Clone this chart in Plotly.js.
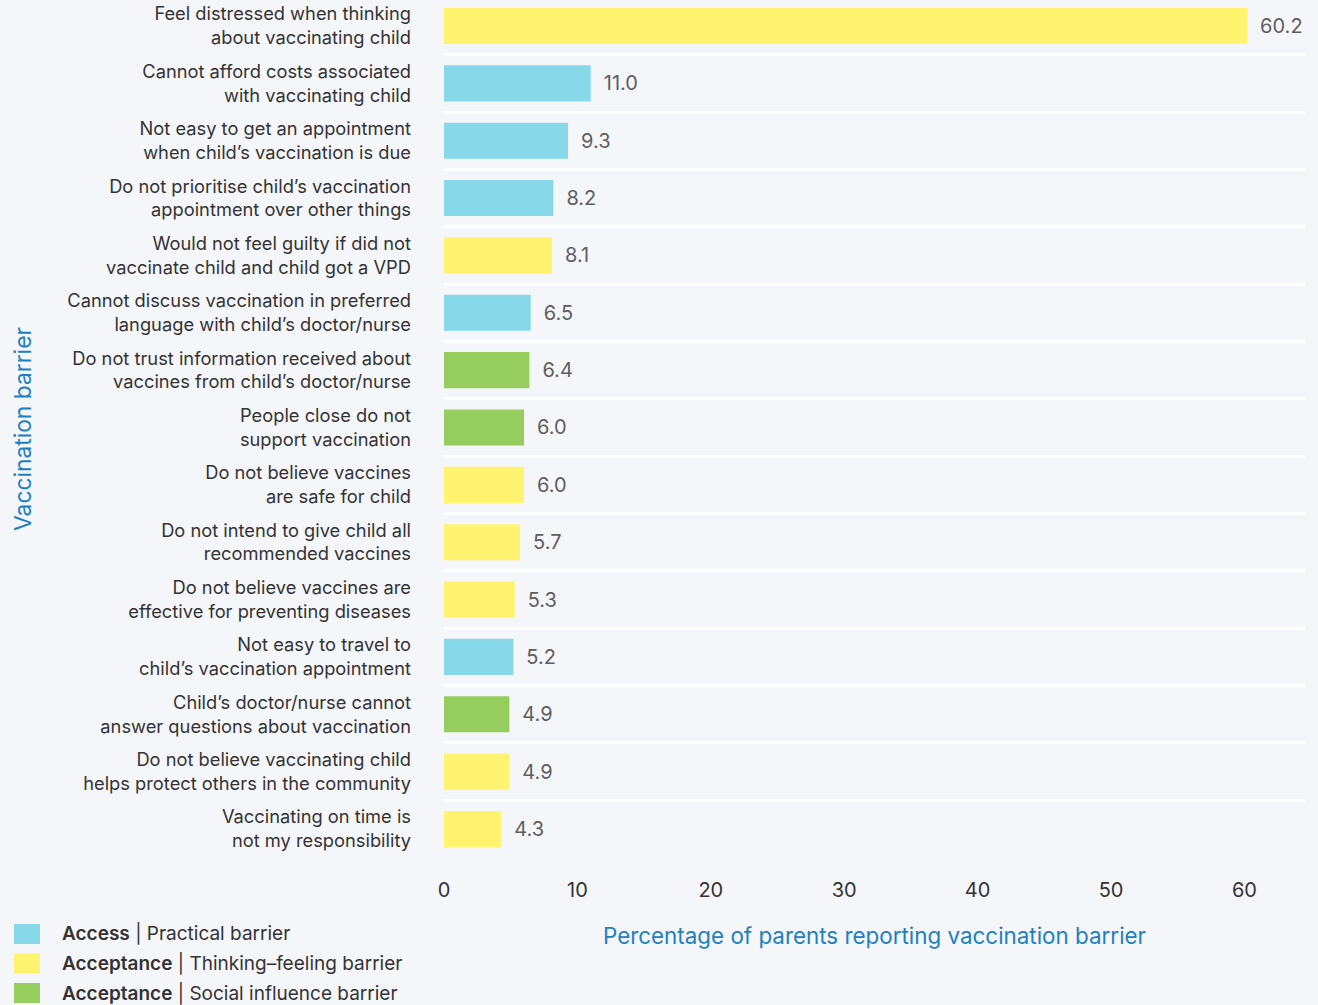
<!DOCTYPE html>
<html>
<head>
<meta charset="utf-8">
<script src="https://cdn.plot.ly/plotly-3.0.1.min.js"></script>
<style>
html,body{margin:0;padding:0;background:#f5f6f9;}
#chart{width:1318px;height:1005px;}
</style>
</head>
<body>
<div id="chart"></div>
<script>
const barriers = [
  "Feel distressed when thinking<br>about vaccinating child",
  "Cannot afford costs associated<br>with vaccinating child",
  "Not easy to get an appointment<br>when child’s vaccination is due",
  "Do not prioritise child’s vaccination<br>appointment over other things",
  "Would not feel guilty if did not<br>vaccinate child and child got a VPD",
  "Cannot discuss vaccination in preferred<br>language with child’s doctor/nurse",
  "Do not trust information received about<br>vaccines from child’s doctor/nurse",
  "People close do not<br>support vaccination",
  "Do not believe vaccines<br>are safe for child",
  "Do not intend to give child all<br>recommended vaccines",
  "Do not believe vaccines are<br>effective for preventing diseases",
  "Not easy to travel to<br>child’s vaccination appointment",
  "Child’s doctor/nurse cannot<br>answer questions about vaccination",
  "Do not believe vaccinating child<br>helps protect others in the community",
  "Vaccinating on time is<br>not my responsibility"
];
const percentages = [60.2, 11.0, 9.3, 8.2, 8.1, 6.5, 6.4, 6.0, 6.0, 5.7, 5.3, 5.2, 4.9, 4.9, 4.3];
const barrierTypes = ["T","P","P","P","T","P","S","S","T","T","T","P","S","T","T"];
const typeKeys = ["P","T","S"];
const typeBold = {P: "Access", T: "Acceptance", S: "Acceptance"};
const typeRest = {P: " | Practical barrier", T: " | Thinking–feeling barrier", S: " | Social influence barrier"};
const typeColors = {P: "#87d8e8", T: "#fff36f", S: "#95cd5f"};
const xTicks = [0, 10, 20, 30, 40, 50, 60];

const font = "Inter, 'Noto Sans', sans-serif";
const W = 1318, H = 1005;
const M = {l: 444, r: 13, t: 0, b: 147};
const PW = W - M.l - M.r, PH = H - M.t - M.b;
const px2x = px => (px - M.l) / PW;
const px2y = py => (H - M.b - py) / PH;

const traces = typeKeys.map(k => {
  const ys = [], xs = [], ts = [];
  barriers.forEach((b, i) => {
    if (barrierTypes[i] === k) { ys.push(b); xs.push(percentages[i]); ts.push("\u2002" + percentages[i].toFixed(1)); }
  });
  return {
    type: "bar", orientation: "h",
    y: ys, x: xs, text: ts,
    textposition: "outside", cliponaxis: false,
    textfont: {family: font, size: 20, color: "#5e5e5e"},
    marker: {color: typeColors[k]},
    name: typeBold[k] + typeRest[k],
    width: 0.63,
    hoverinfo: "x+y",
    showlegend: false
  };
});

// Manual legend built from the type arrays
const shapes = [], annotations = [];
typeKeys.forEach((k, j) => {
  const cy = 934 + j * 29.5;
  shapes.push({
    type: "rect", xref: "paper", yref: "paper",
    x0: px2x(14), x1: px2x(40), y0: px2y(cy + 10), y1: px2y(cy - 10),
    fillcolor: typeColors[k], line: {width: 0}
  });
  annotations.push({
    xref: "paper", yref: "paper", x: px2x(60), y: px2y(cy),
    xanchor: "left", yanchor: "middle", showarrow: false,
    text: '<span style="font-weight:600">' + typeBold[k] + '</span>' + typeRest[k],
    font: {family: font, size: 19, color: "#333"}
  });
});

const layout = {
  width: W, height: H,
  paper_bgcolor: "#f5f6f9", plot_bgcolor: "#f5f6f9",
  margin: M,
  barmode: "relative",
  showlegend: false,
  font: {family: font, color: "#333"},
  shapes: shapes,
  annotations: annotations,
  xaxis: {
    range: [0, 64.54],
    tickvals: xTicks,
    ticktext: xTicks.map(String),
    showgrid: false, zeroline: false, showline: false,
    tickfont: {size: 20, color: "#333"},
    ticks: "", ticklabelstandoff: 18,
    title: {text: "Percentage of parents reporting vaccination barrier",
            font: {size: 22.4, color: "#1f80c0"}, standoff: 27}
  },
  yaxis: {
    type: "category",
    categoryorder: "array", categoryarray: barriers,
    range: [14.506, -0.453],
    tickson: "boundaries",
    showgrid: true, gridcolor: "#ffffff", gridwidth: 3,
    zeroline: false, showline: false, ticks: "",
    tickfont: {size: 18.3, color: "#333"},
    ticklabelstandoff: 32,
    title: {text: "Vaccination barrier", font: {size: 22.8, color: "#1f80c0"}, standoff: 29}
  }
};

Plotly.newPlot("chart", traces, layout, {displayModeBar: false, responsive: false});
</script>
</body>
</html>
